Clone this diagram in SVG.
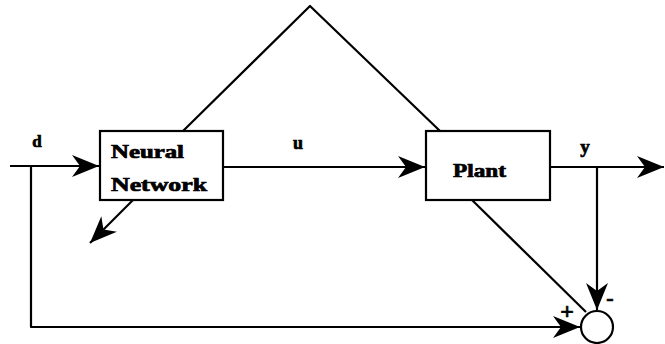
<svg xmlns="http://www.w3.org/2000/svg" width="665" height="344" viewBox="0 0 665 344">
  <defs>
    <marker id="barb" viewBox="-28 -12 30 24" refX="0" refY="0" markerWidth="30" markerHeight="24" markerUnits="userSpaceOnUse" orient="auto">
      <path d="M0,0 L-27,-11 L-19,0 L-27,11 Z" fill="#000"/>
    </marker>
  </defs>
  <style>
    .box { fill: #fff; stroke: #000; stroke-width: 2.2; }
    .wire { fill: none; stroke: #000; stroke-width: 2.2; stroke-linejoin: round; }
    .lbl { font-family: "Liberation Serif", "Times New Roman", serif; font-weight: bold; fill: #000; stroke: #000; stroke-width: 0.7; }
  </style>
  <rect width="665" height="344" fill="#fff"/>

  <g id="connectors">
    <!-- reference input d into the controller -->
    <path class="wire" d="M10,166 L99,166" marker-end="url(#barb)"/>
    <!-- control signal u into the plant -->
    <path class="wire" d="M223,167 L425,167" marker-end="url(#barb)"/>
    <!-- plant output y -->
    <path class="wire" d="M550,167 L664,167" marker-end="url(#barb)"/>
    <!-- y fed down to the summing junction -->
    <path class="wire" d="M597,167 L597,310" marker-end="url(#barb)"/>
    <!-- d fed around the bottom to the summing junction -->
    <path class="wire" d="M31,166 L31,327 L580,327" marker-end="url(#barb)"/>
    <!-- error path back through the plant to the network -->
    <path class="wire" d="M586,312 L472,200"/>
    <path class="wire" d="M440,131 L310,6 L183,131"/>
    <path class="wire" d="M133,200 L90,243" marker-end="url(#barb)"/>
  </g>

  <g id="neural-network">
    <rect class="box" x="100" y="131" width="123" height="69"/>
    <text class="lbl" x="111" y="158" font-size="18" textLength="73" lengthAdjust="spacingAndGlyphs">Neural</text>
    <text class="lbl" x="111" y="191" font-size="18" textLength="96" lengthAdjust="spacingAndGlyphs">Network</text>
  </g>

  <g id="plant">
    <rect class="box" x="426" y="131" width="124" height="69"/>
    <text class="lbl" x="453" y="177" font-size="18" textLength="53" lengthAdjust="spacingAndGlyphs">Plant</text>
  </g>

  <g id="sum">
    <circle class="box" cx="597" cy="327" r="16"/>
    <text class="lbl" x="567" y="319" font-size="24" text-anchor="middle">+</text>
    <text class="lbl" x="610" y="305" font-size="22" text-anchor="middle">-</text>
  </g>

  <g id="labels">
    <text class="lbl" x="37" y="147" font-size="17" text-anchor="middle">d</text>
    <text class="lbl" x="298" y="149" font-size="18" text-anchor="middle">u</text>
    <text class="lbl" x="585" y="153" font-size="19" text-anchor="middle">y</text>
  </g>
</svg>
